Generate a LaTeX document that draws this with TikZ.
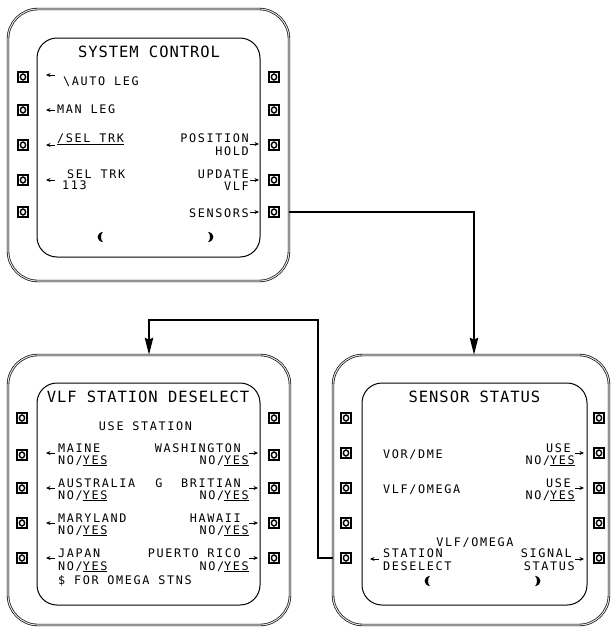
\documentclass[tikz,border=0pt]{standalone}
\usepackage{fontspec}
\usetikzlibrary{arrows.meta,calc}
\newfontfamily\fmsbody{DejaVu Sans Mono}[LetterSpace=14]
\newfontfamily\fmstitle{DejaVu Sans Mono}[LetterSpace=6]
\tikzset{
  frame/.style={draw, double=gray!25, double distance=1.1pt, line width=0.65pt, rounded corners=30pt, inner sep=0pt},
  screen/.style={draw, line width=1pt, rounded corners=20pt, inner sep=0pt},
  btn/.style={draw, line width=1.6pt, minimum width=10.5pt, minimum height=10.5pt, inner sep=0pt,
    path picture={\draw[line width=1.4pt] (path picture bounding box.center) ellipse (2.6pt and 3pt);}},
  lbl/.style={font=\fmsbody\fontsize{11.8}{12}\selectfont, inner sep=0pt},
  ttl/.style={font=\fmstitle\fontsize{15.5}{16}\selectfont, inner sep=0pt},
  tick/.style={line width=0.9pt, -{Stealth[length=4.5pt,width=4pt]}},
  link/.style={line width=1.3pt},
  linkhead/.style={-{Stealth[length=17pt,width=8.5pt,inset=2pt]}},
  chev/.style={fill=black}
}
\begin{document}
\begin{tikzpicture}[x=1pt,y=-1pt]
\useasboundingbox (0,0) rectangle (612,627);

% ---------------- SYSTEM CONTROL ----------------
\node[frame, minimum width=281pt, minimum height=272pt] (scF) at (148.5,145) {};
\node[screen, minimum width=223pt, minimum height=219pt] (scS) at (148.5,147.5) {};
\foreach \i/\y in {1/77,2/110,3/145,4/180,5/212}{
  \node[btn] (scL\i) at (23,\y) {};
  \node[btn] (scR\i) at (274,\y) {};
}
\node[ttl, anchor=base] (scT) at (149,57) {SYSTEM CONTROL};
\node[lbl, anchor=base west] (scA) at (63,85) {\textbackslash AUTO LEG};
\node[lbl, anchor=base west] (scB) at (57,113) {MAN LEG};
\node[lbl, anchor=base west] (scC) at (57,142) {\underline{/SEL TRK}};
\node[lbl, anchor=base west] (scD1) at (67,178) {SEL TRK};
\node[lbl, anchor=base west] (scD2) at (62,189) {113};
\node[lbl, anchor=base east] (scE1) at (249,142) {POSITION};
\node[lbl, anchor=base east] (scE2) at (249,155) {HOLD};
\node[lbl, anchor=base east] (scF1) at (249,178) {UPDATE};
\node[lbl, anchor=base east] (scF2) at (249,190) {VLF};
\node[lbl, anchor=base east] (scG) at (249,217) {SENSORS};
\foreach \y in {75,110,145,180}{\draw[tick] (55,\y) -- (46,\y);}
\foreach \y in {144,180,212}{\draw[tick] (250,\y) -- (259,\y);}
\fill[chev,shift={(101,237)},scale=1.3] (1.5,-4) .. controls (-4,-3) and (-4,3) .. (1.5,4) .. controls (-0.5,2) and (-0.5,-2) .. cycle;
\fill[chev,shift={(210,237)},xscale=-1.3,yscale=1.3] (1.5,-4) .. controls (-4,-3) and (-4,3) .. (1.5,4) .. controls (-0.5,2) and (-0.5,-2) .. cycle;

% ---------------- VLF STATION DESELECT ----------------
\node[frame, minimum width=282pt, minimum height=270pt] (dsF) at (149,490) {};
\node[screen, minimum width=223pt, minimum height=222pt] (dsS) at (148.5,494) {};
\foreach \i/\y in {1/418,2/455,3/488,4/523,5/558}{
  \node[btn] (dsL\i) at (22,\y) {};
  \node[btn] (dsR\i) at (274,\y) {};
}
\node[ttl, anchor=base, fill=white, inner xsep=1pt] (dsT) at (148,402) {VLF STATION DESELECT};
\node[lbl, anchor=base] (dsU) at (145.5,430) {USE STATION};
\node[lbl, anchor=base west] (ds1a) at (58,452) {MAINE};
\node[lbl, anchor=base west] (ds1b) at (58,464) {NO/\underline{YES}};
\node[lbl, anchor=base east] (ds1c) at (241,452) {WASHINGTON};
\node[lbl, anchor=base east] (ds1d) at (249,464) {NO/\underline{YES}};
\node[lbl, anchor=base west] (ds2a) at (58,487) {AUSTRALIA};
\node[lbl, anchor=base west] (ds2b) at (58,499) {NO/\underline{YES}};
\node[lbl, anchor=base] (ds2g) at (159,487) {G};
\node[lbl, anchor=base east] (ds2c) at (241,487) {BRITIAN};
\node[lbl, anchor=base east] (ds2d) at (249,499) {NO/\underline{YES}};
\node[lbl, anchor=base west] (ds3a) at (58,522) {MARYLAND};
\node[lbl, anchor=base west] (ds3b) at (58,534) {NO/\underline{YES}};
\node[lbl, anchor=base east] (ds3c) at (241,522) {HAWAII};
\node[lbl, anchor=base east] (ds3d) at (249,534) {NO/\underline{YES}};
\node[lbl, anchor=base west] (ds4a) at (58,557) {JAPAN};
\node[lbl, anchor=base west] (ds4b) at (58,570) {NO/\underline{YES}};
\node[lbl, anchor=base east] (ds4c) at (241,557) {PUERTO RICO};
\node[lbl, anchor=base east] (ds4d) at (249,570) {NO/\underline{YES}};
\node[lbl, anchor=base west] (ds5) at (58,584) {\$ FOR OMEGA STNS};
\foreach \y in {453,488,523,558}{\draw[tick] (55,\y) -- (46,\y);}
\foreach \y in {453,488,523,558}{\draw[tick] (249,\y) -- (258,\y);}

% ---------------- SENSOR STATUS ----------------
\node[frame, minimum width=276pt, minimum height=270pt] (ssF) at (471,490) {};
\node[screen, minimum width=225pt, minimum height=222pt] (ssS) at (474.5,494) {};
\foreach \i/\y in {1/418,2/453,3/488,4/523,5/558}{
  \node[btn] (ssL\i) at (346,\y) {};
  \node[btn] (ssR\i) at (599,\y) {};
}
\node[ttl, anchor=base] (ssT) at (474.5,402) {SENSOR STATUS};
\node[lbl, anchor=base west] (ss1) at (383,458) {VOR/DME};
\node[lbl, anchor=base west] (ss2) at (383,493) {VLF/OMEGA};
\node[lbl, anchor=base east] (ss1a) at (571,452) {USE};
\node[lbl, anchor=base east] (ss1b) at (575,464) {NO/\underline{YES}};
\node[lbl, anchor=base east] (ss2a) at (571,487) {USE};
\node[lbl, anchor=base east] (ss2b) at (575,499) {NO/\underline{YES}};
\node[lbl, anchor=base] (ss3) at (475,546) {VLF/OMEGA};
\node[lbl, anchor=base west] (ss4a) at (383,557) {STATION};
\node[lbl, anchor=base west] (ss4b) at (383,570) {DESELECT};
\node[lbl, anchor=base east] (ss5a) at (572,557) {SIGNAL};
\node[lbl, anchor=base east] (ss5b) at (575,570) {STATUS};
\draw[tick] (379,559) -- (370,559);
\foreach \y in {453,488,559}{\draw[tick] (575,\y) -- (584,\y);}
\fill[chev,shift={(428,581)},scale=1.3] (1.5,-4) .. controls (-4,-3) and (-4,3) .. (1.5,4) .. controls (-0.5,2) and (-0.5,-2) .. cycle;
\fill[chev,shift={(537,581)},xscale=-1.3,yscale=1.3] (1.5,-4) .. controls (-4,-3) and (-4,3) .. (1.5,4) .. controls (-0.5,2) and (-0.5,-2) .. cycle;

% ---------------- connectors ----------------
\coordinate (jog) at (318,320);
\draw[link, linkhead] (scF.east |- scR5) -| ([xshift=3pt]ssF.north);
\draw[link, linkhead] (ssF.west |- ssL5) -| (jog) -| (dsF.north);
\end{tikzpicture}
\end{document}
